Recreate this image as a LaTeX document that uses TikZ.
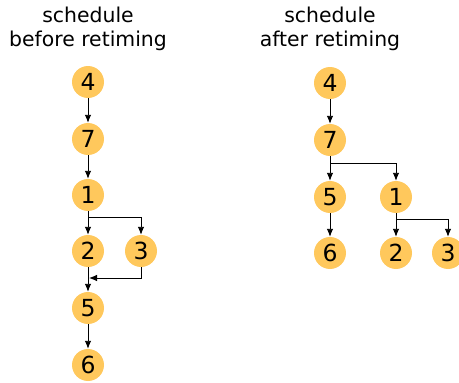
\documentclass[tikz,border=0pt]{standalone}
\usepackage{fontspec}
\setmainfont{DejaVu Sans}
\usetikzlibrary{arrows.meta}
\definecolor{nodefill}{RGB}{255,200,92}
\tikzset{
  num/.style={circle,fill=nodefill,inner sep=0pt,minimum size=32pt,font=\fontsize{23.5}{23.5}\selectfont},
  ttl/.style={align=center,font=\fontsize{20.4}{24}\selectfont,inner sep=0pt},
  arr/.style={-{Latex[length=8pt,width=6.5pt]},line width=0.9pt,black}
}
\begin{document}
\begin{tikzpicture}[x=1pt,y=-1pt]
\useasboundingbox (0,0) rectangle (459,383);
% titles
\node[ttl] (t1) at (88,29) {schedule\\before retiming};
\node[ttl] (t2) at (330,29) {schedule\\after retiming};
% left
\node[num] (a4) at (88,82) {4};
\node[num] (a7) at (88,139) {7};
\node[num] (a1) at (88,195) {1};
\node[num] (a2) at (88,251) {2};
\node[num] (a3) at (141,251) {3};
\node[num] (a5) at (88,308) {5};
\node[num] (a6) at (88,365) {6};
\coordinate (aj) at (88,278);
\draw[arr] (a4) -- (a7);
\draw[arr] (a7) -- (a1);
\draw[arr] (a1) -- (a2);
\draw[arr] (a1.south) |- (141,217) -- (a3);
\draw[arr] (a2) -- (a5);
\draw[arr] (a3.south) |- ([xshift=1pt]aj);
\draw[arr] (a5) -- (a6);
% right
\node[num] (b4) at (330,83) {4};
\node[num] (b7) at (330,140) {7};
\node[num] (b5) at (330,197) {5};
\node[num] (b1) at (396,197) {1};
\node[num] (b6) at (330,253) {6};
\node[num] (b2) at (396,253) {2};
\node[num] (b3) at (448,253) {3};
\draw[arr] (b4) -- (b7);
\draw[arr] (b7) -- (b5);
\draw[arr] (b7.south) |- (396,163) -- (b1);
\draw[arr] (b5) -- (b6);
\draw[arr] (b1) -- (b2);
\draw[arr] (b1.south) |- (448,219) -- (b3);
\end{tikzpicture}
\end{document}
